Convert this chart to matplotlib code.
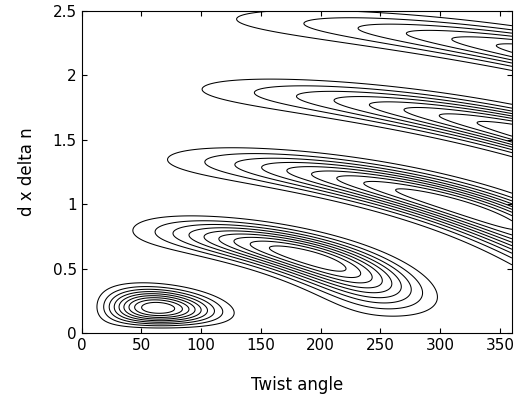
import numpy as np
import matplotlib
matplotlib.use("Agg")
import matplotlib.pyplot as plt

# reflectance of a single-polarizer reflective twisted nematic cell
wavelength = 0.55          # um
polarizer_angle = 0.0      # deg, relative to front director
levels = [0.1, 0.2, 0.3, 0.4, 0.5, 0.6, 0.7, 0.8, 0.9]
x_ticks = [0, 50, 100, 150, 200, 250, 300, 350]
y_ticks = [0, 0.5, 1, 1.5, 2, 2.5]
y_ticklabels = ["0", "0.5", "1", "1.5", "2", "2.5"]

twist = np.linspace(0.01, 360, 721)
d_dn = np.linspace(0.0, 2.5, 601)
T, D = np.meshgrid(twist, d_dn)

phi = np.radians(T)
beta = np.pi * D / wavelength
X = np.sqrt(phi**2 + beta**2)
s = np.sin(X) / X
a = np.radians(2 * polarizer_angle)
R = (1 - 2 * beta**2 * s**2)**2 + 4 * beta**2 * s**2 * (np.cos(X) * np.cos(a) + phi * s * np.sin(a))**2

fig = plt.figure(figsize=(5.24, 4.0), dpi=100)
ax = fig.add_axes([0.156, 0.1675, 0.821, 0.805])
ax.contour(T, D, R, levels=levels, colors="k", linewidths=0.75)
ax.set_xlim(0, 360)
ax.set_ylim(0, 2.5)
ax.set_xticks(x_ticks)
ax.set_yticks(y_ticks)
ax.set_yticklabels(y_ticklabels)
ax.tick_params(direction="in", labelsize=11, top=True, right=True)
ax.set_xlabel("Twist angle", fontsize=12, labelpad=17)
ax.set_ylabel("d x delta n", fontsize=12, labelpad=12)
fig.savefig("out.png", dpi=100)
